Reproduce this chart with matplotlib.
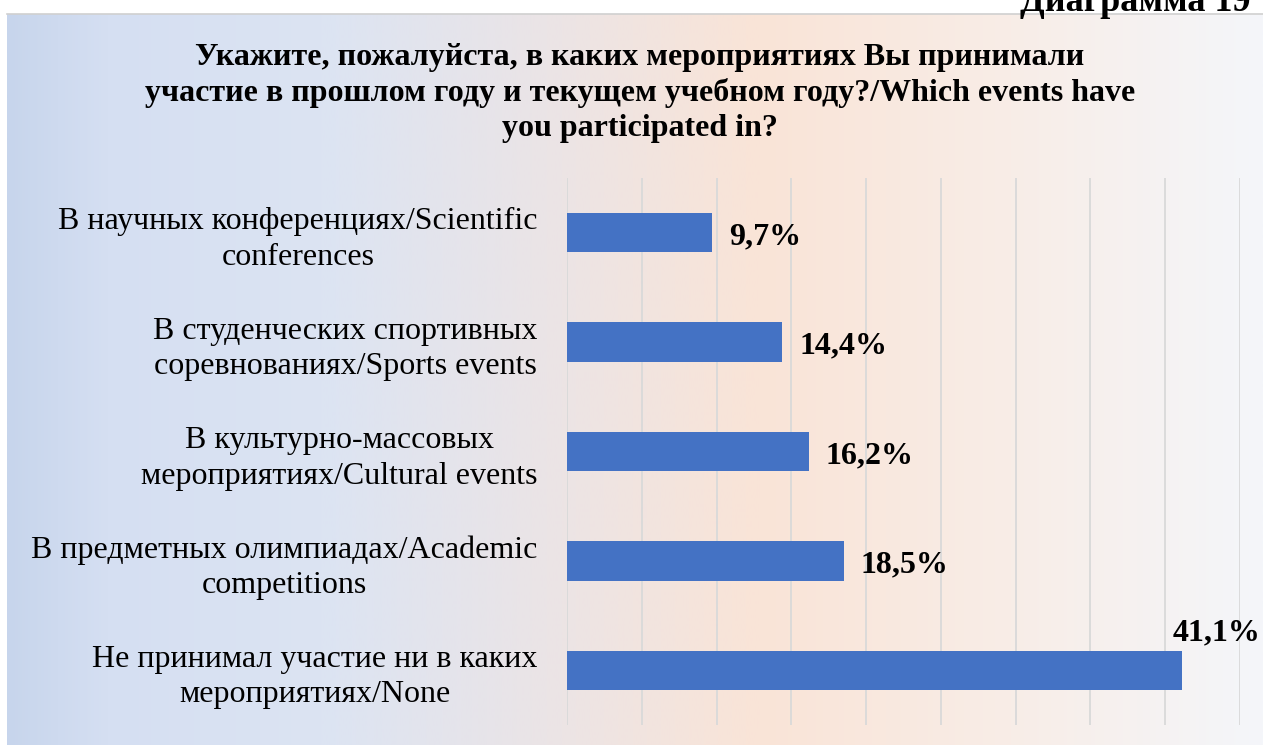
import matplotlib.pyplot as plt
import numpy as np

CATEGORIES = [
    "В научных конференциях/Scientific\nconferences",
    "В студенческих спортивных\nсоревнованиях/Sports events",
    "В культурно-массовых\nмероприятиях/Cultural events",
    "В предметных олимпиадах/Academic\ncompetitions",
    "Не принимал участие ни в каких\nмероприятиях/None",
]
VALUES = [9.7, 14.4, 16.2, 18.5, 41.1]
VALUE_LABELS = ["9,7%", "14,4%", "16,2%", "18,5%", "41,1%"]

TITLE = ("Укажите, пожалуйста, в каких мероприятиях Вы принимали\n"
         "участие в прошлом году и текущем учебном году?/Which events have\n"
         "you participated in?")

BAR_COLOR = "#4472C4"
GRID_COLOR = "#d9d9d9"

W, H = 1263, 745
plt.rcParams["font.family"] = ["Liberation Serif", "DejaVu Serif"]

fig = plt.figure(figsize=(W / 100, H / 100), dpi=100)
fig.patch.set_facecolor("white")

# background gradient panel (blue -> peach -> white)
stops = [0.0, 0.08, 0.25, 0.43, 0.6, 0.8, 1.0]
cols = np.array([
    (199, 213, 236), (213, 223, 242), (220, 228, 243), (235, 228, 230),
    (250, 228, 215), (248, 237, 231), (244, 246, 250),
]) / 255.0
xs = np.linspace(0, 1, 600)
grad = np.stack([np.interp(xs, stops, cols[:, k]) for k in range(3)], axis=-1)
bg = fig.add_axes([7 / W, 0, 1 - 7 / W, (H - 14) / H], zorder=0)
bg.imshow(grad[np.newaxis, :, :], aspect="auto", extent=(0, 1, 0, 1))
bg.set_axis_off()
fig.add_artist(plt.Line2D([7 / W, 1], [(H - 14) / H] * 2, color="#d0d0d0", lw=1.2))

fig.text(1250 / W, 1 - 11 / H, "Диаграмма 19", ha="right", va="baseline",
         fontsize=26, fontweight="bold")
fig.text(640 / W, 1 - 93 / H, TITLE, ha="center", va="center",
         fontsize=23, fontweight="bold", linespacing=1.28)

ax = fig.add_axes([567 / W, 1 - 725 / H, (1240 - 567) / W, (725 - 178) / H], zorder=1)
ax.patch.set_alpha(0)
y = np.arange(len(CATEGORIES))
ax.barh(y, VALUES, height=0.36, color=BAR_COLOR, zorder=3)
ax.set_xlim(0, 45)
ax.set_ylim(len(CATEGORIES) - 0.5, -0.5)
ax.set_xticks(np.arange(0, 50, 5))
ax.set_xticklabels([])
ax.tick_params(axis="x", length=0)
ax.set_yticks(y)
ax.set_yticklabels(CATEGORIES, fontsize=23, multialignment="center",
                   linespacing=1.3)
ax.tick_params(axis="y", length=0, pad=21)
ax.grid(axis="x", color=GRID_COLOR, lw=1.3, zorder=0)
for s in ax.spines.values():
    s.set_visible(False)

vmax = max(VALUES)
for i, (v, lab) in enumerate(zip(VALUES, VALUE_LABELS)):
    if v == vmax:
        ax.annotate(lab, (v, i), xytext=(25, 27), textcoords="offset points",
                    ha="center", va="center", fontsize=23, fontweight="bold")
    else:
        ax.annotate(lab, (v, i), xytext=(12, -3), textcoords="offset points",
                    ha="left", va="center", fontsize=23, fontweight="bold")

fig.savefig("out.png", dpi=100)
